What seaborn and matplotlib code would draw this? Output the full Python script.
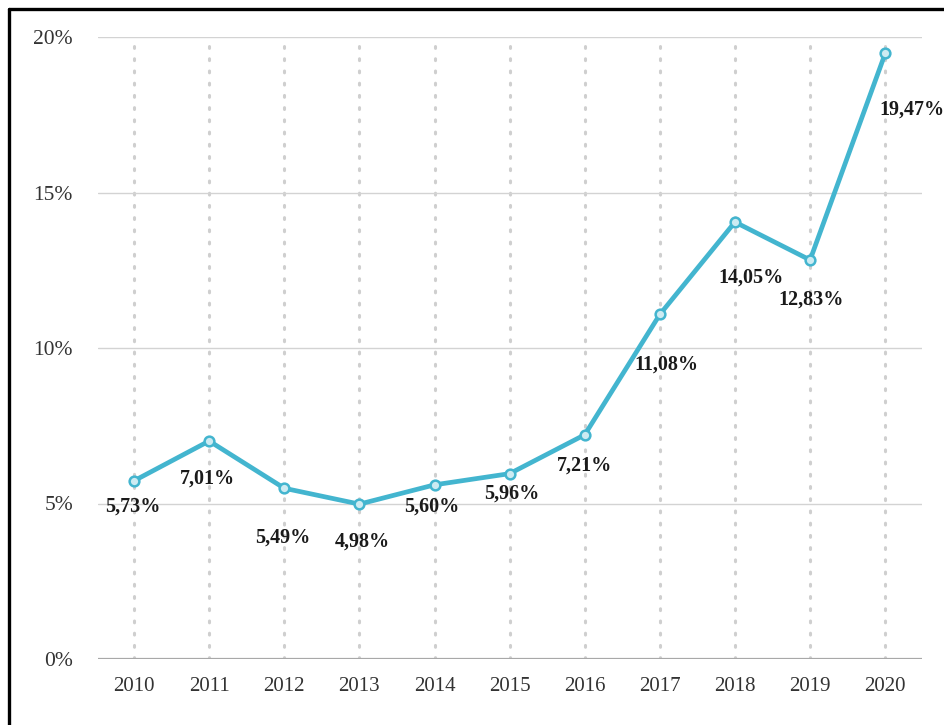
import matplotlib
matplotlib.use("Agg")
import matplotlib.pyplot as plt
import matplotlib.lines as mlines
import seaborn as sns
import pandas as pd

years = [2010, 2011, 2012, 2013, 2014, 2015, 2016, 2017, 2018, 2019, 2020]
rates = [5.73, 7.01, 5.49, 4.98, 5.60, 5.96, 7.21, 11.08, 14.05, 12.83, 19.47]
y_ticks = [0, 5, 10, 15, 20]

# label offsets from each point, in pixels (dx right, dy down)
label_offsets = [(-1, 26), (-2, 38), (-2, 49), (3, 37), (-3, 22), (2, 20),
                 (0, 31), (7, 50), (16, 56), (1, 40), (27, 56)]

df = pd.DataFrame({"year": years, "rate": rates})

sns.set_style("white")
plt.rcParams["font.family"] = ["Liberation Serif", "DejaVu Serif"]

fig = plt.figure(figsize=(9.44, 7.25), dpi=100)
ax = fig.add_axes([98 / 944, 1 - 659 / 725, (922 - 98) / 944, (659 - 37) / 725])

line_color = "#43b5cf"

# vertical dotted guides at each year
for yr in years:
    ax.plot([yr, yr], [0, 19.75], color="#cfcfcf", lw=2.2,
            linestyle=(0, (0.6, 3.4)), dash_capstyle="round", zorder=1)

# horizontal grid
for t in y_ticks[1:]:
    ax.axhline(t, color="#d3d3d3", lw=1.0, zorder=1)
ax.axhline(0, color="#a8a8a8", lw=1.6, zorder=2)

sns.lineplot(data=df, x="year", y="rate", ax=ax, color=line_color, lw=3.4,
             marker="o", markersize=7, markerfacecolor="#cdebf2",
             markeredgecolor=line_color, markeredgewidth=1.8, zorder=3)

for x, y, (dx, dy) in zip(years, rates, label_offsets):
    ax.annotate(f"{y:.2f}%".replace(".", ","), (x, y),
                xytext=(dx * 0.72, -dy * 0.72), textcoords="offset points",
                ha="center", va="center", fontsize=14.5, fontweight="bold",
                color="#1a1a1a", zorder=4)

ax.set_xlim(2009.52, 2020.49)
ax.set_ylim(0, 20)
ax.set_xticks(years)
ax.set_xticklabels([str(y) for y in years])
ax.set_yticks(y_ticks)
ax.set_yticklabels([f"{t}%" for t in y_ticks])
ax.tick_params(axis="x", length=0, labelsize=15, colors="#333333", pad=13)
ax.tick_params(axis="y", length=0, labelsize=15.5, colors="#333333", pad=18)
ax.set_xlabel("")
ax.set_ylabel("")
for s in ax.spines.values():
    s.set_visible(False)

# frame lines along the left and top edges
fig.add_artist(mlines.Line2D([9 / 944, 9 / 944], [0, 1 - 9 / 725],
                             transform=fig.transFigure, color="black", lw=2.4))
fig.add_artist(mlines.Line2D([9 / 944, 1], [1 - 9 / 725, 1 - 9 / 725],
                             transform=fig.transFigure, color="black", lw=2.4))

fig.savefig("out.png", dpi=100)
